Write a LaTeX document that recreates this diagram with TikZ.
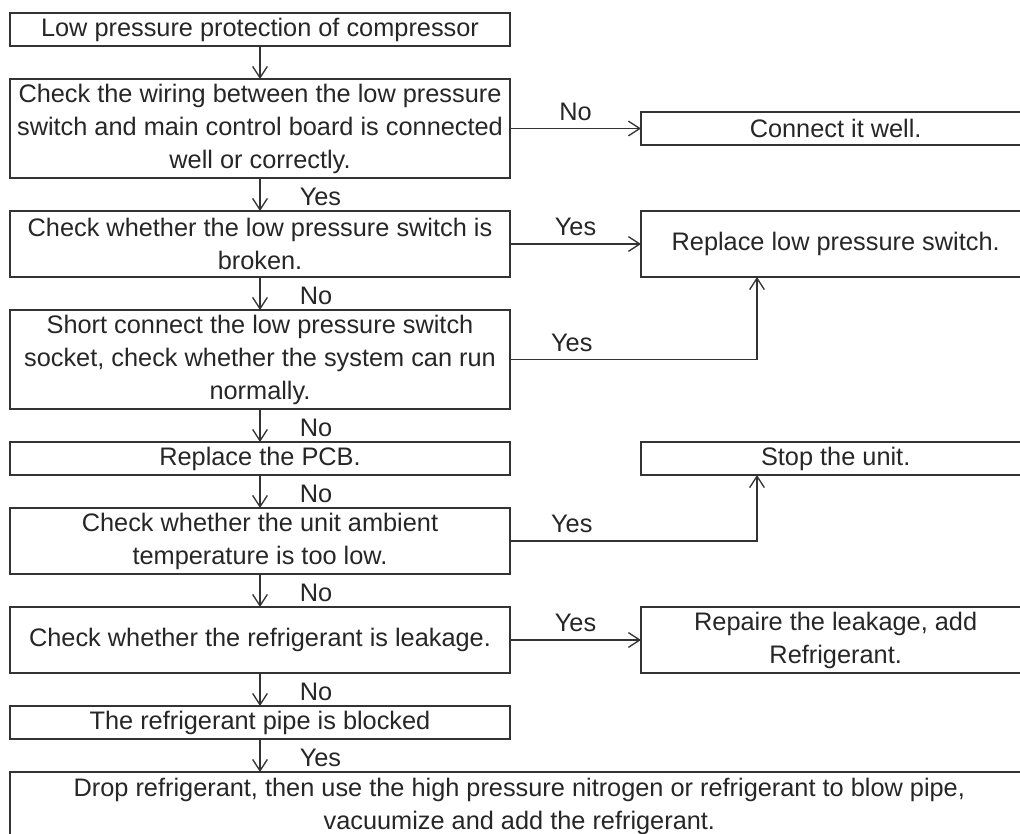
\documentclass[tikz,border=0pt]{standalone}
\usepackage{fontspec}
\setmainfont{Liberation Sans}
\usepackage{tikz}
\usetikzlibrary{positioning}
\usetikzlibrary{calc,arrows.meta}

\begin{document}
\begin{tikzpicture}[x=0.75pt, y=-0.75pt, font=\fontsize{19pt}{24.75pt}\selectfont, >={Straight Barb[length=8.5pt,width=11pt]}]

\tikzstyle{box}=[draw=black!80,line width=1pt,outer sep=0pt,inner sep=0pt,align=center,text=black!85,minimum width=375pt,minimum height=24.75pt]
\tikzstyle{fix}=[box,minimum width=292pt]
\tikzstyle{flow}=[->,draw=black!80,line width=1pt]
\tikzstyle{answer}=[text=black!85]

   %page
    \useasboundingbox (0,0) rectangle (1020,834);

   %checks on the left
    \node (check1) [box] at (260,29.5) {Low pressure protection of compressor};
    \node (check2) [box,below=24.75pt of check1,minimum height=74.25pt] {Check the wiring between the low pressure\\switch and main control board is connected\\well or correctly.};
    \node (check3) [box,below=24.75pt of check2,minimum height=49.5pt] {Check whether the low pressure switch is\\broken.};
    \node (check4) [box,below=24.75pt of check3,minimum height=74.25pt] {Short connect the low pressure switch\\socket, check whether the system can run\\normally.};
    \node (check5) [box,below=24.75pt of check4] {Replace the PCB.};
    \node (check6) [box,below=24.75pt of check5,minimum height=49.5pt] {Check whether the unit ambient\\temperature is too low.};
    \node (check7) [box,below=24.75pt of check6,minimum height=49.5pt] {Check whether the refrigerant is leakage.};
    \node (check8) [box,below=24.75pt of check7] {The refrigerant pipe is blocked};
    \node (check9) [box,below=24.75pt of check8.south west,anchor=north west,minimum width=764pt,minimum height=51pt] {Drop refrigerant, then use the high pressure nitrogen or refrigerant to blow pipe,\\vacuumize and add the refrigerant.};

   %fixes on the right
    \node (fix1) [fix,right=98.25pt of check2] {Connect it well.};
    \node (fix2) [fix,right=98.25pt of check3,minimum height=49.5pt] {Replace low pressure switch.};
    \node (fix3) [fix,right=98.25pt of check5] {Stop the unit.};
    \node (fix4) [fix,right=98.25pt of check7,minimum height=49.5pt] {Repaire the leakage, add\\Refrigerant.};

    \coordinate (up2) at ($(fix2.south west)+(116,0)$);
    \coordinate (up3) at ($(fix3.south west)+(116,0)$);


   %down the chain
    \draw [flow] (check1) -- (check2);
    \draw [flow] (check2) -- (check3) node[answer,midway,right=26pt,yshift=-2pt] {Yes};
    \draw [flow] (check3) -- (check4) node[answer,midway,right=26pt,yshift=-2pt] {No};
    \draw [flow] (check4) -- (check5) node[answer,midway,right=26pt,yshift=-2pt] {No};
    \draw [flow] (check5) -- (check6) node[answer,midway,right=26pt,yshift=-2pt] {No};
    \draw [flow] (check6) -- (check7) node[answer,midway,right=26pt,yshift=-2pt] {No};
    \draw [flow] (check7) -- (check8) node[answer,midway,right=26pt,yshift=-2pt] {No};
    \draw [flow] (check8.south) -- (check8.south |- check9.north) node[answer,midway,right=26pt,yshift=-2pt] {Yes};

   %out to the fixes
    \draw [flow] (check2) -- (fix1) node[answer,midway,above=2pt] {No};
    \draw [flow] (check3) -- (fix2) node[answer,midway,above=2pt] {Yes};
    \draw [flow] (check4.east) -- node[answer,pos=0.25,above=2pt] {Yes} (check4.east -| up2) -- (up2);
    \draw [flow] (check6.east) -- node[answer,pos=0.25,above=2pt] {Yes} (check6.east -| up3) -- (up3);
    \draw [flow] (check7) -- (fix4) node[answer,midway,above=2pt] {Yes};

\end{tikzpicture}
\end{document}
